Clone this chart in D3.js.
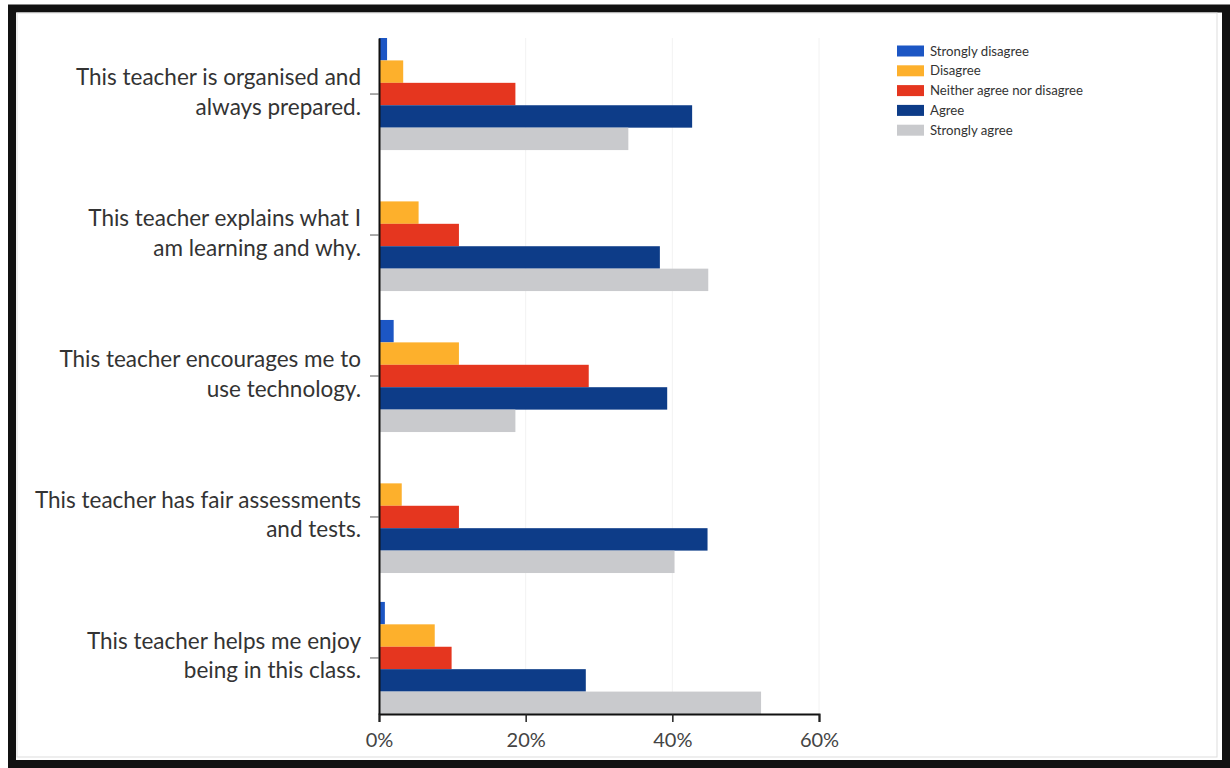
<!DOCTYPE html>
<html>
<head>
<meta charset="utf-8">
<script src="https://cdn.jsdelivr.net/npm/d3@7/dist/d3.min.js"></script>
<style>
  html, body { margin: 0; padding: 0; background: #fff; }
  svg { display: block; }
</style>
</head>
<body>
<svg id="chart" width="1230" height="768"></svg>
<script>
// Survey statements (each split into its two display lines)
const categories = [
  ["This teacher is organised and", "always prepared."],
  ["This teacher explains what I", "am learning and why."],
  ["This teacher encourages me to", "use technology."],
  ["This teacher has fair assessments", "and tests."],
  ["This teacher helps me enjoy", "being in this class."]
];

const seriesNames = ["Strongly disagree", "Disagree", "Neither agree nor disagree", "Agree", "Strongly agree"];
const seriesColors = ["#1c56c4", "#fdb02c", "#e5361f", "#0d3c88", "#c9cacd"];

// Share of responses per statement, one array per answer
const stronglyDisagree = [0.011, 0.000, 0.020, 0.000, 0.008];
const disagree         = [0.033, 0.054, 0.109, 0.031, 0.076];
const neither          = [0.186, 0.109, 0.286, 0.109, 0.099];
const agree            = [0.427, 0.383, 0.393, 0.448, 0.282];
const stronglyAgree    = [0.340, 0.449, 0.186, 0.403, 0.521];

const xTicks = [0, 0.2, 0.4, 0.6];

const seriesValues = [stronglyDisagree, disagree, neither, agree, stronglyAgree];
const keys = categories.map(c => c.join(" "));

const svg = d3.select("#chart");

// Outer frame
svg.append("rect")
  .attr("x", 12).attr("y", 8.5)
  .attr("width", 1214).attr("height", 755.5)
  .attr("fill", "none").attr("stroke", "#111").attr("stroke-width", 8);
svg.append("rect")
  .attr("x", 17).attr("y", 13)
  .attr("width", 1200).attr("height", 744)
  .attr("fill", "none").attr("stroke", "#ddd").attr("stroke-width", 1);

const plot = { left: 379, right: 819, top: 38, bottom: 714 };

const x = d3.scaleLinear().domain([0, 0.6]).range([plot.left, plot.right]);
const y = d3.scaleBand().domain(keys).range([plot.top, plot.bottom])
  .paddingInner(0.205).paddingOuter(0);
const ySeries = d3.scaleBand().domain(seriesNames).range([0, y.bandwidth()]).padding(0);

// Faint vertical gridlines
svg.append("g").selectAll("line")
  .data(xTicks.slice(1))
  .join("line")
  .attr("x1", d => x(d)).attr("x2", d => x(d))
  .attr("y1", plot.top).attr("y2", plot.bottom)
  .attr("stroke", "#f2f2f2").attr("stroke-width", 1);

// Bars
const groups = svg.append("g").selectAll("g")
  .data(keys)
  .join("g")
  .attr("transform", d => `translate(0,${y(d)})`);

groups.selectAll("rect")
  .data((k, i) => seriesNames.map((s, j) => ({ s, j, v: seriesValues[j][i] })))
  .join("rect")
  .attr("x", x(0))
  .attr("y", d => ySeries(d.s))
  .attr("width", d => x(d.v) - x(0))
  .attr("height", ySeries.bandwidth())
  .attr("fill", d => seriesColors[d.j]);

// X axis
const xAxis = svg.append("g")
  .attr("transform", `translate(0,${plot.bottom})`)
  .call(d3.axisBottom(x).tickValues(xTicks).tickFormat(d3.format(".0%"))
    .tickSize(8).tickPadding(11));
xAxis.select(".domain").attr("stroke", "#111").attr("stroke-width", 2);
xAxis.selectAll(".tick line").attr("stroke", "#222").attr("stroke-width", 1.5);
xAxis.selectAll(".tick text")
  .attr("fill", "#444")
  .style("font-family", "Lato, 'Open Sans', sans-serif")
  .style("font-size", "20px");

// Y axis
const yAxis = svg.append("g")
  .attr("transform", `translate(${plot.left},0)`)
  .call(d3.axisLeft(y).tickFormat("").tickSize(9).tickSizeOuter(0));
yAxis.select(".domain").attr("stroke", "#111").attr("stroke-width", 2);
yAxis.selectAll(".tick line").attr("stroke", "#555").attr("stroke-width", 1);

// Statement labels, two lines each, right-aligned
const labels = svg.append("g").selectAll("text")
  .data(categories)
  .join("text")
  .attr("text-anchor", "end")
  .attr("fill", "#333")
  .style("font-family", "Lato, 'Open Sans', sans-serif")
  .style("font-size", "22.5px");
labels.each(function(lines, i) {
  const cy = y(keys[i]) + y.bandwidth() / 2;
  d3.select(this).selectAll("tspan")
    .data(lines)
    .join("tspan")
    .attr("x", 361)
    .attr("y", (d, k) => cy - 9 + k * 29.5);
});
labels.selectAll("tspan").text(d => d);

// Legend
const legend = svg.append("g").attr("transform", "translate(897,51)");
const items = legend.selectAll("g")
  .data(seriesNames)
  .join("g")
  .attr("transform", (d, i) => `translate(0,${i * 19.8})`);
items.append("rect")
  .attr("x", 0).attr("y", -5.5)
  .attr("width", 27).attr("height", 11)
  .attr("fill", (d, i) => seriesColors[i]);
items.append("text")
  .attr("x", 33).attr("y", 0).attr("dy", "0.35em")
  .attr("fill", "#333")
  .style("font-family", "Lato, 'Open Sans', sans-serif")
  .style("font-size", "13.2px")
  .text(d => d);
</script>
</body>
</html>
